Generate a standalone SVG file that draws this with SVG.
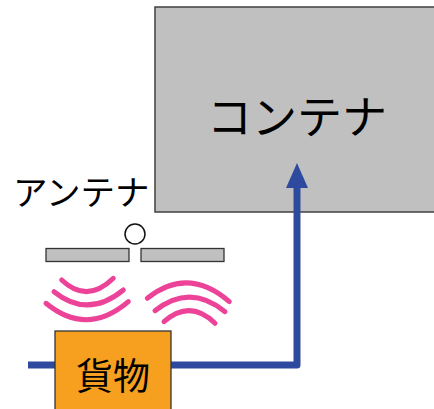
<svg xmlns="http://www.w3.org/2000/svg" width="434" height="409" viewBox="0 0 434 409">
<style>
text{font-family:"Noto Sans CJK JP","Noto Sans CJK SC",sans-serif;fill:#000}
.wave{fill:none;stroke:#EC4399;stroke-width:5;stroke-linecap:round}
.bar{fill:#C0C0C0;stroke:#333;stroke-width:1.3}
.conn{fill:none;stroke:#2E4A9E;stroke-width:7;stroke-linejoin:round}
</style>
<rect width="434" height="409" fill="#fff"/>
<g id="container">
<rect x="155" y="7" width="285" height="205" fill="#C0C0C0" stroke="#404040" stroke-width="1.5"/>
<text x="297" y="134" font-size="45" text-anchor="middle">コンテナ</text>
</g>
<g id="antenna">
<text x="13" y="205" font-size="34.5">アンテナ</text>
<circle cx="135" cy="234" r="10" fill="#fff" stroke="#111" stroke-width="1.5"/>
<rect class="bar" x="46" y="248.5" width="83" height="13"/>
<rect class="bar" x="141" y="248.5" width="83" height="13"/>
</g>
<g id="waves">
<path class="wave" d="M61.7,280 Q87,304 113.3,278.3"/>
<path class="wave" d="M54,291.7 Q88,319 123.3,290"/>
<path class="wave" d="M46,303.3 Q87,337 128.3,301.7"/>
<path class="wave" d="M147.3,298.3 Q188,266 229.3,301.7"/>
<path class="wave" d="M155,310.7 Q190,283 225,311.7"/>
<path class="wave" d="M164,321.7 Q190,299 215,323.3"/>
</g>
<g id="connectors">
<path class="conn" d="M28,365 H297 V186"/>
<polygon points="297,163 286,188 308,188" fill="#2E4A9E"/>
</g>
<g id="cargo">
<rect x="55" y="331" width="116" height="85" fill="#F7A01F" stroke="#333" stroke-width="1.3"/>
<text x="113" y="390" font-size="37" text-anchor="middle">貨物</text>
</g>
</svg>
